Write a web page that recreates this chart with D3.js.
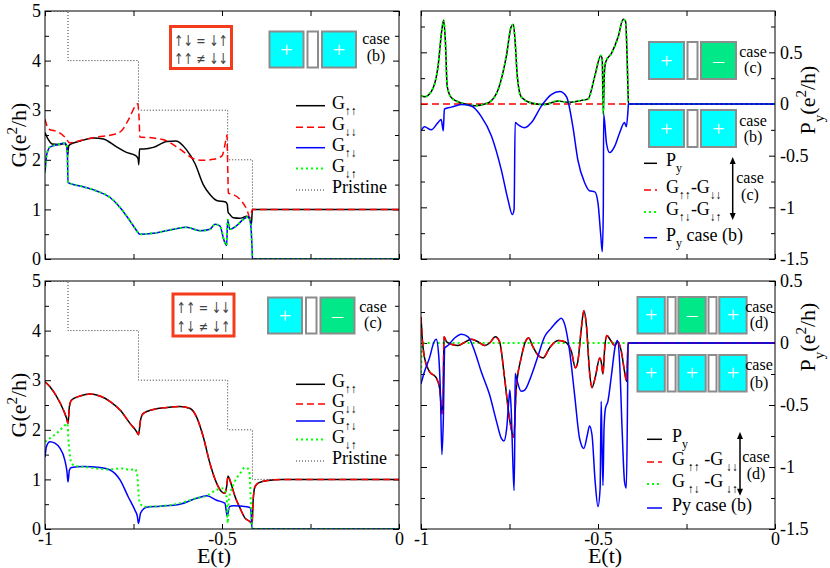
<!DOCTYPE html>
<html>
<head>
<meta charset="utf-8">
<script src="https://cdn.jsdelivr.net/npm/d3@7"></script>
<style>
body { margin: 0; background: #fff; }
</style>
</head>
<body>
<svg id="fig" width="830" height="568"></svg>
<script>
// ---- data: [E(t), value] ----
const E_PRISTINE = [-1, -0.935, -0.736, -0.484, -0.414, 0];
const G_PRISTINE = [5, 4, 3, 2, 1, 1];

// case (b): G_up-up, G_down-down, G_up-down (= G_down-up)
const b_Guu = [[-1.0,2.55],[-0.99,2.40],[-0.98,2.32],[-0.96,2.31],[-0.945,2.33],[-0.938,2.25],[-0.936,2.10],
  [-0.933,2.28],[-0.929,2.31],[-0.90,2.38],[-0.863,2.44],[-0.835,2.42],[-0.80,2.27],[-0.77,2.15],[-0.745,2.09],
  [-0.737,2.02],[-0.735,1.90],[-0.733,2.22],[-0.72,2.22],[-0.694,2.25],[-0.656,2.37],[-0.63,2.38],[-0.60,2.20],
  [-0.576,1.92],[-0.553,1.50],[-0.534,1.30],[-0.515,1.18],[-0.49,1.15],[-0.485,1.10],[-0.483,0.95],[-0.478,0.90],
  [-0.468,0.83],[-0.45,0.82],[-0.43,0.86],[-0.42,0.78],[-0.417,0.70],[-0.414,1.0],[0,1.0]];
const b_Gdd = [[-1.0,2.82],[-0.99,2.62],[-0.962,2.56],[-0.944,2.46],[-0.93,2.34],[-0.90,2.39],[-0.854,2.46],
  [-0.807,2.51],[-0.783,2.59],[-0.764,2.81],[-0.745,3.08],[-0.738,3.13],[-0.734,2.80],[-0.732,2.46],[-0.694,2.44],
  [-0.656,2.38],[-0.618,2.21],[-0.576,2.01],[-0.553,1.99],[-0.524,2.01],[-0.50,2.08],[-0.489,2.40],[-0.486,2.50],
  [-0.484,1.90],[-0.482,1.33],[-0.468,1.30],[-0.449,1.20],[-0.43,1.00],[-0.421,0.84],[-0.414,1.0],[0,1.0]];
const b_Gud = [[-1.0,1.74],[-0.995,2.11],[-0.985,2.26],[-0.962,2.31],[-0.944,2.34],[-0.937,2.24],[-0.935,1.54],
  [-0.90,1.47],[-0.854,1.37],[-0.816,1.24],[-0.788,1.04],[-0.76,0.77],[-0.741,0.57],[-0.732,0.50],[-0.694,0.52],
  [-0.637,0.60],[-0.60,0.64],[-0.562,0.57],[-0.534,0.60],[-0.52,0.70],[-0.506,0.67],[-0.494,0.37],[-0.487,0.27],
  [-0.484,0.79],[-0.478,0.60],[-0.459,0.67],[-0.44,0.80],[-0.425,0.85],[-0.419,0.70],[-0.415,0.2],[-0.414,0],[0,0]];

// case (c): G_up-up (= G_down-down), G_up-down, G_down-up
const c_Guu = [[-1,2.97],[-0.986,2.87],[-0.967,2.67],[-0.948,2.40],[-0.939,2.23],[-0.935,2.13],[-0.931,2.47],
  [-0.925,2.60],[-0.901,2.68],[-0.873,2.72],[-0.845,2.68],[-0.816,2.57],[-0.788,2.40],[-0.76,2.13],[-0.741,1.96],
  [-0.736,1.90],[-0.73,2.20],[-0.722,2.33],[-0.694,2.41],[-0.656,2.45],[-0.619,2.47],[-0.59,2.43],[-0.572,2.26],
  [-0.553,1.86],[-0.534,1.32],[-0.515,0.92],[-0.501,0.75],[-0.492,0.72],[-0.487,0.85],[-0.483,1.07],[-0.477,0.97],
  [-0.463,0.65],[-0.449,0.42],[-0.435,0.22],[-0.421,0.15],[-0.415,0.11],[-0.412,0.58],[-0.407,0.85],[-0.397,0.93],
  [-0.37,0.98],[-0.33,1.0],[0,1.0]];
const c_Gud = [[-1,1.45],[-0.996,1.66],[-0.986,1.76],[-0.972,1.73],[-0.958,1.63],[-0.944,1.39],[-0.938,1.16],
  [-0.935,0.95],[-0.931,1.19],[-0.925,1.24],[-0.892,1.26],[-0.845,1.24],[-0.816,1.19],[-0.788,0.99],[-0.765,0.65],
  [-0.746,0.38],[-0.739,0.25],[-0.736,0.11],[-0.73,0.32],[-0.713,0.44],[-0.675,0.46],[-0.619,0.50],[-0.572,0.62],
  [-0.543,0.67],[-0.515,0.58],[-0.492,0.52],[-0.485,0.26],[-0.479,0.45],[-0.468,0.47],[-0.43,0.45],[-0.419,0.42],
  [-0.415,0],[0,0]];
const c_Gdu = [[-1,1.76],[-0.986,1.83],[-0.967,1.93],[-0.948,2.06],[-0.937,2.13],[-0.933,1.73],[-0.925,1.32],
  [-0.911,1.27],[-0.873,1.24],[-0.826,1.20],[-0.779,1.22],[-0.76,1.19],[-0.746,1.21],[-0.739,1.06],[-0.734,0.58],
  [-0.722,0.45],[-0.675,0.46],[-0.619,0.52],[-0.572,0.62],[-0.543,0.67],[-0.515,0.79],[-0.496,0.82],[-0.487,0.65],
  [-0.484,0.12],[-0.481,0.58],[-0.468,0.89],[-0.449,1.12],[-0.435,1.24],[-0.423,1.19],[-0.418,0.45],[-0.415,0],[0,0]];

// top right: P_y case (c), G_uu - G_dd case (c), P_y case (b)
const c_Py = [[-1.0,0.08],[-0.99,0.07],[-0.971,0.12],[-0.952,0.36],[-0.941,0.72],[-0.936,0.81],[-0.931,0.60],
  [-0.926,0.17],[-0.914,0.06],[-0.886,0.01],[-0.848,-0.016],[-0.811,0.01],[-0.782,0.14],[-0.759,0.46],[-0.745,0.75],
  [-0.739,0.77],[-0.734,0.60],[-0.728,0.27],[-0.717,0.07],[-0.688,0.01],[-0.651,-0.006],[-0.613,0.03],[-0.585,0.016],
  [-0.547,0.035],[-0.528,0.05],[-0.509,0.27],[-0.492,0.47],[-0.488,0.43],[-0.485,-0.10],[-0.482,0.30],[-0.478,0.41],
  [-0.462,0.49],[-0.443,0.65],[-0.429,0.82],[-0.422,0.80],[-0.419,0.59],[-0.415,0.1],[-0.414,0],[0,0]];
const c_diffUU = [[-1,0],[-0.414,0]];
const b_Py = [[-1.0,-0.26],[-0.99,-0.22],[-0.971,-0.25],[-0.952,-0.18],[-0.943,-0.15],[-0.937,-0.26],[-0.934,-0.05],
  [-0.914,-0.03],[-0.886,-0.006],[-0.858,-0.02],[-0.83,-0.12],[-0.801,-0.31],[-0.773,-0.64],[-0.754,-0.93],
  [-0.742,-1.07],[-0.737,-1.02],[-0.734,-0.18],[-0.726,-0.20],[-0.707,-0.23],[-0.688,-0.18],[-0.66,-0.02],
  [-0.632,0.09],[-0.608,0.12],[-0.589,0.07],[-0.571,-0.22],[-0.557,-0.54],[-0.538,-0.76],[-0.524,-0.84],
  [-0.509,-0.85],[-0.500,-0.96],[-0.492,-1.28],[-0.488,-1.43],[-0.485,-1.02],[-0.484,-0.10],[-0.476,-0.38],
  [-0.467,-0.47],[-0.453,-0.41],[-0.439,-0.28],[-0.425,-0.18],[-0.420,-0.22],[-0.415,-0.05],[-0.414,0],[0,0]];

// bottom right: P_y case (d), G_ud - G_du case (d), P_y case (b)
const d_Py = [[-1,0.21],[-0.997,0.06],[-0.99,-0.12],[-0.976,-0.23],[-0.957,-0.28],[-0.947,-0.37],[-0.941,-0.57],
  [-0.938,-0.50],[-0.935,0.05],[-0.928,0.01],[-0.914,-0.01],[-0.895,-0.02],[-0.877,0.005],[-0.858,0.03],[-0.839,0.01],
  [-0.82,-0.02],[-0.806,0],[-0.79,0.05],[-0.778,0.01],[-0.764,-0.28],[-0.75,-0.61],[-0.738,-0.76],[-0.731,-0.37],
  [-0.717,-0.12],[-0.705,0.01],[-0.696,0.04],[-0.684,-0.03],[-0.669,-0.10],[-0.655,-0.12],[-0.637,-0.04],
  [-0.613,0.02],[-0.594,0.01],[-0.575,-0.07],[-0.564,-0.20],[-0.557,-0.15],[-0.547,0.12],[-0.540,0.26],
  [-0.533,0.15],[-0.524,-0.23],[-0.517,-0.36],[-0.508,-0.28],[-0.495,-0.12],[-0.491,-0.15],[-0.486,-0.25],
  [-0.481,-0.04],[-0.475,0.06],[-0.464,0.02],[-0.453,-0.02],[-0.444,0.01],[-0.434,-0.07],[-0.425,-0.23],
  [-0.419,-0.31],[-0.415,0],[0,0]];
const d_diffUD = [[-1,-0.24],[-0.996,0],[-0.414,0]];
const b_Py3 = [[-1,-0.33],[-0.99,-0.23],[-0.976,-0.12],[-0.963,0.01],[-0.957,0.03],[-0.95,-0.10],[-0.945,-0.42],
  [-0.941,-0.90],[-0.937,-0.63],[-0.933,-0.04],[-0.924,-0.02],[-0.905,0.04],[-0.886,0.07],[-0.867,0.05],
  [-0.848,-0.07],[-0.83,-0.23],[-0.806,-0.42],[-0.787,-0.63],[-0.773,-0.77],[-0.766,-0.79],[-0.758,-0.69],
  [-0.752,-0.47],[-0.749,-0.38],[-0.745,-0.55],[-0.740,-1.01],[-0.737,-1.19],[-0.735,-0.74],[-0.734,-0.245],
  [-0.728,-0.31],[-0.717,-0.39],[-0.707,-0.38],[-0.688,-0.26],[-0.669,-0.10],[-0.651,0.05],[-0.632,0.12],
  [-0.613,0.18],[-0.604,0.20],[-0.594,0.15],[-0.58,-0.07],[-0.566,-0.42],[-0.552,-0.77],[-0.54,-0.85],
  [-0.53,-0.74],[-0.524,-0.67],[-0.517,-0.74],[-0.508,-1.12],[-0.5,-1.32],[-0.494,-1.17],[-0.491,-0.47],
  [-0.489,-0.77],[-0.486,-1.15],[-0.483,-0.69],[-0.479,-0.53],[-0.472,-0.47],[-0.462,-0.26],[-0.451,-0.02],
  [-0.445,0.02],[-0.439,-0.15],[-0.432,-0.69],[-0.425,-1.12],[-0.42,-1.17],[-0.417,-0.6],[-0.415,0],[0,0]];

const X_TICKS = [-1, -0.75, -0.5, -0.25, 0];
const X_LABELS = [-1, -0.5, 0];

// ---- layout ----
const W = 354, H = 248;
const FONT = "'Liberation Serif'";
const svg = d3.select("#fig");
const x = d3.scaleLinear().domain([-1, 0]).range([0, W]);
const fmt = d => String(+d.toFixed(2));

const style = {
  black: { stroke: "#000", width: 1.5, dash: null },
  red:   { stroke: "#ff0000", width: 1.5, dash: "7,4" },
  blue:  { stroke: "#0000ff", width: 1.5, dash: null },
  green: { stroke: "#00ff00", width: 2, dash: "2,3" },
  prist: { stroke: "#333", width: 1, dash: "1,2" }
};

function makePanel(id, left, top, yDomain, yMajor, yMinor, labelRight, xLabels) {
  const g = svg.append("g").attr("transform", `translate(${left},${top})`);
  const y = d3.scaleLinear().domain(yDomain).range([H, 0]);
  g.append("clipPath").attr("id", "clip" + id)
    .append("rect").attr("width", W).attr("height", H);

  const tickText = sel => sel.attr("font-family", null).selectAll("text").attr("font-size", 18).attr("fill", "#000");
  const clean = sel => sel.select(".domain").remove();

  g.append("g").attr("transform", `translate(0,${H})`)
    .call(d3.axisBottom(x).tickValues(X_TICKS).tickSize(-5).tickPadding(3)
      .tickFormat(d => xLabels && X_LABELS.includes(d) ? fmt(d) : ""))
    .call(clean).call(tickText);
  g.append("g").call(d3.axisTop(x).tickValues(X_TICKS).tickSize(-5).tickFormat("")).call(clean);

  g.append("g").call(d3.axisLeft(y).tickValues(yMajor).tickSize(-6).tickPadding(4)
      .tickFormat(labelRight ? "" : fmt)).call(clean).call(tickText);
  g.append("g").call(d3.axisLeft(y).tickValues(yMinor).tickSize(-4).tickFormat("")).call(clean);
  g.append("g").attr("transform", `translate(${W},0)`)
    .call(d3.axisRight(y).tickValues(yMajor).tickSize(-6).tickPadding(5)
      .tickFormat(labelRight ? fmt : "")).call(clean).call(tickText);
  g.append("g").attr("transform", `translate(${W},0)`)
    .call(d3.axisRight(y).tickValues(yMinor).tickSize(-4).tickFormat("")).call(clean);

  const plot = g.append("g").attr("clip-path", `url(#clip${id})`);
  return { g, y, plot, id };
}

function drawLine(p, data, st, curve) {
  const line = d3.line().x(d => x(d[0])).y(d => p.y(d[1])).curve(curve || d3.curveMonotoneX);
  p.plot.append("path").datum(data)
    .attr("fill", "none").attr("stroke", st.stroke).attr("stroke-width", st.width)
    .attr("stroke-dasharray", st.dash).attr("d", line);
}

function frame(p) {
  p.g.append("rect").attr("width", W).attr("height", H)
    .attr("fill", "none").attr("stroke", "#000").attr("stroke-width", 1);
}

// rich text: parts = [[text, shift]] shift: 0 normal, 1 sub, -1 sup
function rich(parent, px, py, parts, size, attrs, subScale, subShift) {
  const t = parent.append("text").attr("x", px).attr("y", py).attr("font-size", size);
  if (attrs) Object.entries(attrs).forEach(([k, v]) => t.attr(k, v));
  const sc = subScale || 0.68, sh = subShift || 0.42;
  let cur = 0;
  parts.forEach(([s, k]) => {
    const want = k === 1 ? size * sh : k === -1 ? -size * 0.42 : 0;
    t.append("tspan").attr("dy", want - cur).attr("font-size", k ? size * sc : size).text(s);
    cur = want;
  });
  return t;
}

function legendRow(g, x0, x1, tx, yy, st, parts, size) {
  g.append("line").attr("x1", x0).attr("x2", x1).attr("y1", yy).attr("y2", yy)
    .attr("stroke", st.stroke).attr("stroke-width", st.width).attr("stroke-dasharray", st.dash);
  rich(g, tx, yy + 3, parts, size, null, 0.66, 0.34);
}

const CYAN = "#00ffff", GREEN = "#00e888";
function device(x0, y0, bigW, smallW, gap, h, signs) {
  let cx = x0;
  signs.forEach((s, i) => {
    if (i > 0) {
      svg.append("rect").attr("x", cx + gap).attr("y", y0).attr("width", smallW).attr("height", h)
        .attr("fill", "#fff").attr("stroke", "#8c8c8c").attr("stroke-width", 2);
      cx += gap + smallW + gap;
    }
    svg.append("rect").attr("x", cx).attr("y", y0).attr("width", bigW).attr("height", h)
      .attr("fill", s === "+" ? CYAN : GREEN).attr("stroke", "#8c8c8c").attr("stroke-width", 2);
    svg.append("text").attr("x", cx + bigW / 2).attr("y", y0 + h / 2 + 7)
      .attr("text-anchor", "middle").attr("font-size", 22).attr("fill", "#fff")
      .text(s === "+" ? "+" : "\u2013");
    cx += bigW;
  });
}

function caseLabel(cx, y1, y2, lab) {
  svg.append("text").attr("x", cx).attr("y", y1).attr("text-anchor", "middle").attr("font-size", 16).text("case");
  svg.append("text").attr("x", cx).attr("y", y2).attr("text-anchor", "middle").attr("font-size", 16).text(lab);
}

function dblArrow(ax, ya, yb) {
  svg.append("line").attr("x1", ax).attr("x2", ax).attr("y1", ya + 5).attr("y2", yb - 5)
    .attr("stroke", "#000").attr("stroke-width", 1.5);
  svg.append("path").attr("d", `M${ax},${ya}l-3,7h6z`).attr("fill", "#000");
  svg.append("path").attr("d", `M${ax},${yb}l-3,-7h6z`).attr("fill", "#000");
}

function rule(bx, by, l1, l2) {
  svg.append("rect").attr("x", bx).attr("y", by).attr("width", 61).attr("height", 42)
    .attr("fill", "#fff").attr("stroke", "#f43c1c").attr("stroke-width", 3);
  [l1, l2].forEach((s, i) => svg.append("text").attr("x", bx + 30.5).attr("y", by + 19 + i * 18.5)
    .attr("text-anchor", "middle").attr("font-size", 15).attr("fill", "#444")
    .attr("textLength", 54).attr("lengthAdjust", "spacingAndGlyphs")
    .attr("class", "arrowtext").text(s));
}

const yMajL = [0, 1, 2, 3, 4, 5], yMinL = [0.5, 1.5, 2.5, 3.5, 4.5];
const yMajR = [-1.5, -1, -0.5, 0, 0.5];

// ---- top left: case (b) ----
const tl = makePanel("tl", 45, 11, [0, 5], yMajL, yMinL, false, false);
drawLine(tl, E_PRISTINE.map((e, i) => [e, G_PRISTINE[i]]), style.prist, d3.curveStepAfter);
drawLine(tl, b_Guu, style.black);
drawLine(tl, b_Gdd, style.red);
drawLine(tl, b_Gud, style.blue);
drawLine(tl, b_Gud, style.green);
frame(tl);

// ---- bottom left: case (c) ----
const bl = makePanel("bl", 45, 281, [0, 5], yMajL, yMinL, false, true);
drawLine(bl, E_PRISTINE.map((e, i) => [e, G_PRISTINE[i]]), style.prist, d3.curveStepAfter);
drawLine(bl, c_Guu, style.black);
drawLine(bl, c_Guu, style.red);
drawLine(bl, c_Gud, style.blue);
drawLine(bl, c_Gdu, style.green);
frame(bl);

// ---- top right ----
const tr = makePanel("tr", 421, 11, [-1.5, 0.9], yMajR, [-1.25, -0.75, -0.25, 0.25, 0.75], true, false);
drawLine(tr, c_diffUU, style.red);
drawLine(tr, c_Py, style.black);
drawLine(tr, c_Py, style.green);
drawLine(tr, b_Py, style.blue);
frame(tr);

// ---- bottom right ----
const br = makePanel("br", 421, 281, [-1.5, 0.5], yMajR, [-1.25, -0.75, -0.25, 0.25], true, true);
drawLine(br, d_diffUD, style.green);
drawLine(br, d_Py, style.black);
drawLine(br, d_Py, style.red);
drawLine(br, b_Py3, style.blue);
frame(br);

// ---- axis titles ----
rich(svg.append("g").attr("transform", "translate(26,135) rotate(-90)"), 0, 0,
  [["G(e"], ["2", -1], ["/h)"]], 22, { "text-anchor": "middle" });
rich(svg.append("g").attr("transform", "translate(26,405) rotate(-90)"), 0, 0,
  [["G(e"], ["2", -1], ["/h)"]], 22, { "text-anchor": "middle" });
rich(svg.append("g").attr("transform", "translate(815,100) rotate(-90)"), 0, 0,
  [["P"], ["y", 1], ["(e"], ["2", -1], ["/h)"]], 22, { "text-anchor": "middle" });
rich(svg.append("g").attr("transform", "translate(815,337) rotate(-90)"), 0, 0,
  [["P"], ["y", 1], ["(e"], ["2", -1], ["/h)"]], 22, { "text-anchor": "middle" });
svg.append("text").attr("x", 214).attr("y", 563).attr("text-anchor", "middle").attr("font-size", 22).text("E(t)");
svg.append("text").attr("x", 605).attr("y", 563).attr("text-anchor", "middle").attr("font-size", 22).text("E(t)");

// ---- legends ----
const UU = "\u2191\u2191", DD = "\u2193\u2193", UD = "\u2191\u2193", DU = "\u2193\u2191";
const lg = svg.append("g");
[[105.7, style.black, UU], [127.3, style.red, DD], [147.7, style.blue, UD], [168.5, style.green, DU]]
  .forEach(([yy, st, s]) => legendRow(lg, 296, 325, 332, yy, st, [["G"], [s, 1]], 18));
legendRow(lg, 296, 325, 332, 190, style.prist, [["Pristine"]], 18);

[[384.3, style.black, UU], [404, style.red, DD], [421, style.blue, UD], [439.5, style.green, DU]]
  .forEach(([yy, st, s]) => legendRow(lg, 296, 325, 332, yy, st, [["G"], [s, 1]], 18));
legendRow(lg, 296, 325, 332, 461, style.prist, [["Pristine"]], 18);

legendRow(lg, 644, 657, 666, 163.3, style.black, [["P"], ["y", 1]], 18);
legendRow(lg, 644, 657, 666, 190, style.red, [["G"], [UU, 1], ["-G"], [DD, 1]], 18);
legendRow(lg, 644, 657, 666, 212, style.green, [["G"], [UD, 1], ["-G"], [DU, 1]], 18);
legendRow(lg, 644, 657, 666, 237.7, style.blue, [["P"], ["y", 1], [" case (b)"]], 18);

legendRow(lg, 647, 662, 672, 439.3, style.black, [["P"], ["y", 1]], 18);
legendRow(lg, 647, 662, 672, 462, style.red, [["G"], [" " + UU, 1], [" -G"], [" " + DD, 1]], 18);
legendRow(lg, 647, 662, 672, 484, style.green, [["G"], [" " + UD, 1], [" -G"], ["  " + DU, 1]], 18);
legendRow(lg, 647, 662, 672, 508, style.blue, [["Py case (b)"]], 18);

dblArrow(732.7, 157, 220);
caseLabel(750, 183, 200, "(c)");
dblArrow(740, 432, 495.7);
caseLabel(756, 462, 479, "(d)");

// ---- rules and devices ----
rule(170.5, 26.5, "\u2191\u2193 = \u2193\u2191", "\u2191\u2191 \u2260 \u2193\u2193");
rule(173, 294, "\u2191\u2191 = \u2193\u2193", "\u2191\u2193 \u2260 \u2193\u2191");

device(269.5, 31.5, 34, 10.5, 4, 36, ["+", "+"]);
caseLabel(376, 43.7, 61.3, "(b)");
device(268, 297.5, 34, 10.5, 4, 36, ["+", "-"]);
caseLabel(373, 311.7, 327.5, "(c)");

device(649, 42, 35, 10, 3.5, 37, ["+", "-"]);
caseLabel(753, 56.7, 72.7, "(c)");
device(649, 110, 35, 10, 3.5, 37, ["+", "+"]);
caseLabel(753, 126, 141.5, "(b)");

device(637.5, 297, 27.3, 8, 2.8, 36.5, ["+", "-", "+"]);
caseLabel(759, 311.7, 328, "(d)");
device(637.5, 355, 27.3, 8, 2.8, 36.5, ["+", "+", "+"]);
caseLabel(759, 370, 387.5, "(b)");

// serif type throughout, like the original figure; box arrows from DejaVu
svg.selectAll("text").style("font-family", FONT);
svg.selectAll("text.arrowtext").style("font-family", "'DejaVu Sans'");
</script>
</body>
</html>
